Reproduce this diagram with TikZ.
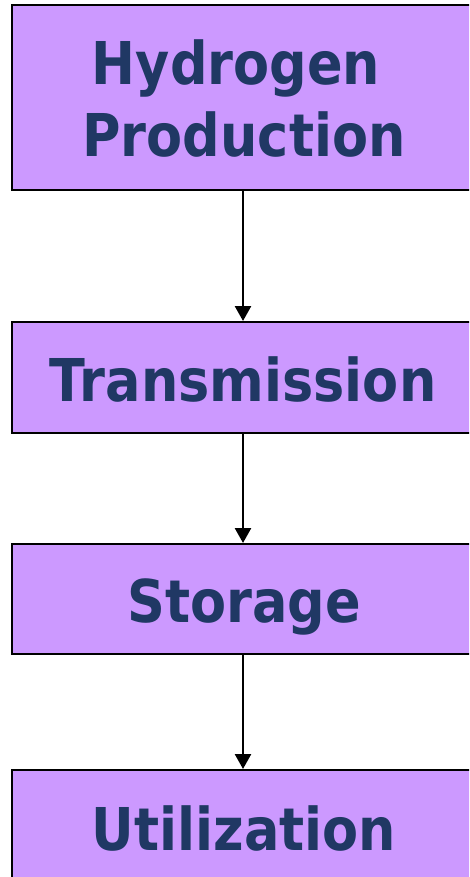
\documentclass[tikz,border=0pt]{standalone}
\usepackage{fontspec}
\setmainfont{DejaVu Sans}
\newfontfamily\stagefont[FakeStretch=0.89]{DejaVu Sans}
\usetikzlibrary{arrows.meta}
\definecolor{boxfill}{HTML}{CC99FF}
\definecolor{labelblue}{HTML}{203864}
\tikzset{
  stage/.style={draw=black, line width=2pt, fill=boxfill, rectangle,
    inner sep=0pt, minimum width=462pt},
  stagetext/.style={anchor=base, inner sep=0pt, text=labelblue,
    font=\stagefont\fontsize{59}{72}\selectfont\bfseries},
  flow/.style={line width=2.6pt, -{Triangle[width=16pt,length=15pt]}}
}
\begin{document}
\begin{tikzpicture}[x=1pt,y=-1pt]
\useasboundingbox (0,0) rectangle (469,877);
\clip (0,0) rectangle (469,877);
% stage boxes
\node[stage, minimum height=185pt] (prod)  at (243,97.5) {};
\node[stage, minimum height=111pt] (trans) at (243,377.5) {};
\node[stage, minimum height=110pt] (stor)  at (243,599) {};
\node[stage, minimum height=112pt] (util)  at (243,826) {};
% labels
\node[stagetext] (prodA) at (236,85)  {Hydrogen};
\node[stagetext] (prodB) at (244,157) {Production};
\node[stagetext] (transT) at (243,401.5) {Transmission};
\node[stagetext] (storT) at (244,622) {Storage};
\node[stagetext] (utilT) at (244,850) {Utilization};
% flow arrows
\draw[flow] (prod.south) -- (trans.north);
\draw[flow] (trans.south) -- (stor.north);
\draw[flow] (stor.south) -- (util.north);
\end{tikzpicture}
\end{document}
